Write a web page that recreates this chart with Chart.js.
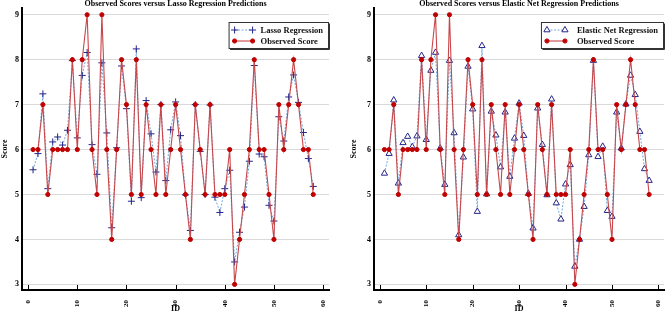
<!DOCTYPE html>
<html lang="en">
<head>
  <meta charset="UTF-8" />
  <title>Observed Scores vs Regression Predictions</title>
  <script src="https://cdn.jsdelivr.net/npm/chart.js@4.4.0/dist/chart.umd.min.js"></script>
  <style>
    html, body {
      margin: 0;
      padding: 0;
      background: #fff;
    }

    .row {
      display: flex;
      width: 669px;
      height: 315px;
    }

    canvas {
      display: block;
    }
  </style>
</head>
<body>
  <div class="row">
    <canvas id="lassoChart" width="334" height="315"></canvas>
    <canvas id="enetChart" width="335" height="315"></canvas>
  </div>

  <script>
    // data
    const ids = [1, 2, 3, 4, 5, 6, 7, 8, 9, 10, 11, 12, 13, 14, 15, 16, 17, 18, 19, 20,
      21, 22, 23, 24, 25, 26, 27, 28, 29, 30, 31, 32, 33, 34, 35, 36, 37, 38, 39, 40,
      41, 42, 43, 44, 45, 46, 47, 48, 49, 50, 51, 52, 53, 54, 55, 56, 57, 58];
    const observed = [6, 6, 7, 5, 6, 6, 6, 6, 8, 6, 8, 9, 6, 5, 9, 6, 4, 6, 8, 7,
      5, 8, 5, 7, 6, 5, 7, 5, 6, 7, 6, 5, 4, 7, 6, 5, 7, 5, 5, 5,
      6, 3, 4, 5, 6, 8, 6, 6, 5, 4, 7, 6, 7, 8, 7, 6, 6, 5];
    const lassoPred = [5.55, 5.91, 7.24, 5.13, 6.17, 6.28, 6.10, 6.43, 7.98, 6.26,
      7.65, 8.16, 6.11, 5.45, 7.93, 6.37, 4.26, 6.04, 7.86, 6.91,
      4.85, 8.24, 4.93, 7.09, 6.35, 5.50, 7.00, 5.31, 6.44, 7.06,
      6.31, 4.99, 4.20, 7.00, 5.96, 5.00, 6.99, 4.94, 4.60, 5.13,
      5.54, 3.50, 4.16, 4.72, 5.74, 7.87, 5.90, 5.84, 4.76, 4.41,
      6.73, 6.19, 7.17, 7.66, 7.05, 6.38, 5.80, 5.18];
    const enetPred = [5.47, 5.91, 7.10, 5.25, 6.15, 6.29, 6.06, 6.30, 8.09, 6.22,
      7.76, 8.16, 6.03, 5.22, 7.98, 6.37, 4.10, 5.83, 7.85, 6.90,
      4.62, 8.31, 5.01, 6.85, 6.32, 5.61, 6.83, 5.40, 6.25, 7.03,
      6.31, 5.02, 4.25, 6.92, 6.11, 4.99, 7.12, 4.81, 4.45, 5.23,
      5.66, 3.40, 4.00, 4.73, 5.88, 7.98, 5.84, 6.07, 4.64, 4.51,
      6.83, 6.03, 7.01, 7.65, 7.22, 6.40, 5.57, 5.31];
    const xTicks = [0, 10, 20, 30, 40, 50, 60];
    const yTicks = [3, 4, 5, 6, 7, 8, 9];

    const FONT = "'Liberation Serif', 'Times New Roman', serif";

    function toPoints(values) {
      return values.map((v, i) => ({ x: ids[i], y: v }));
    }

    // markers for the legend samples (same shapes chart.js uses)
    function drawMarker(ctx, ds, x, y) {
      const r = ds.pointRadius;
      ctx.save();
      ctx.setLineDash([]);
      ctx.lineWidth = ds.pointBorderWidth;
      ctx.strokeStyle = ds.pointBorderColor;
      ctx.fillStyle = ds.pointBackgroundColor;
      ctx.beginPath();
      if (ds.pointStyle === 'cross') {
        ctx.moveTo(x - r, y);
        ctx.lineTo(x + r, y);
        ctx.moveTo(x, y - r);
        ctx.lineTo(x, y + r);
        ctx.stroke();
      } else if (ds.pointStyle === 'triangle') {
        let a = 0;
        ctx.moveTo(x + Math.sin(a) * r, y - Math.cos(a) * r);
        a += Math.PI * 2 / 3;
        ctx.lineTo(x + Math.sin(a) * r, y - Math.cos(a) * r);
        a += Math.PI * 2 / 3;
        ctx.lineTo(x + Math.sin(a) * r, y - Math.cos(a) * r);
        ctx.closePath();
        ctx.fill();
        ctx.stroke();
      } else {
        ctx.arc(x, y, r, 0, Math.PI * 2);
        ctx.fill();
        ctx.stroke();
      }
      ctx.restore();
    }

    // title over the plot area, boxed legend, small inner ticks on x axis
    const panelDecor = {
      id: 'panelDecor',
      afterDraw(chart, args, opts) {
        const ctx = chart.ctx;
        const area = chart.chartArea;
        const xScale = chart.scales.x;

        ctx.save();
        ctx.fillStyle = '#000';
        ctx.font = 'bold 8px ' + FONT;
        ctx.textAlign = 'center';
        ctx.textBaseline = 'middle';
        ctx.fillText(opts.title, (area.left + area.right) / 2, 4);

        // x ticks pointing up into the plot
        ctx.strokeStyle = '#000';
        ctx.lineWidth = 1;
        xTicks.forEach(v => {
          const px = Math.round(xScale.getPixelForValue(v)) + 0.5;
          ctx.beginPath();
          ctx.moveTo(px, area.bottom);
          ctx.lineTo(px, area.bottom - 5);
          ctx.stroke();
        });

        // legend
        const items = chart.data.datasets.filter(d => d.label);
        ctx.font = 'bold 8.5px ' + FONT;
        const textW = Math.max(...items.map(d => ctx.measureText(d.label).width));
        const boxW = 5 + 18 + opts.legendGap + textW + 6;
        const boxH = 26;
        const bx = area.right - boxW - 1;
        const by = area.top + 14;
        ctx.fillStyle = '#fff';
        ctx.fillRect(bx, by, boxW, boxH);
        ctx.strokeStyle = '#333';
        ctx.lineWidth = 1;
        ctx.strokeRect(bx + 0.5, by + 0.5, boxW, boxH);
        ctx.beginPath();
        ctx.moveTo(bx + 1.5, by + boxH + 1.5);
        ctx.lineTo(bx + boxW + 1.5, by + boxH + 1.5);
        ctx.lineTo(bx + boxW + 1.5, by + 1.5);
        ctx.stroke();

        ctx.textAlign = 'left';
        items.forEach((ds, i) => {
          const ly = by + 8 + i * 11;
          const x0 = bx + 6;
          const x1 = x0 + 18;
          ctx.save();
          ctx.strokeStyle = ds.borderColor;
          ctx.lineWidth = ds.borderWidth;
          ctx.setLineDash(ds.borderDash || []);
          ctx.beginPath();
          ctx.moveTo(x0, ly);
          ctx.lineTo(x1, ly);
          ctx.stroke();
          ctx.restore();
          drawMarker(ctx, ds, x0, ly);
          drawMarker(ctx, ds, x1, ly);
          ctx.fillStyle = '#111';
          ctx.fillText(ds.label, x1 + opts.legendGap, ly + 0.5);
        });
        ctx.restore();
      }
    };

    function makeChart(canvasId, title, predLabel, predValues, predStyle, leftPad, yWidth, legendGap) {
      const predSet = {
        label: predLabel,
        data: toPoints(predValues),
        borderColor: '#6fa8dc',
        borderWidth: 1,
        borderDash: [2, 1.5],
        pointStyle: predStyle,
        pointRadius: predStyle === 'triangle' ? 3.6 : 3.5,
        pointBorderWidth: 1,
        pointBorderColor: '#25258a',
        pointBackgroundColor: predStyle === 'triangle' ? '#fff' : '#25258a',
        tension: 0,
        order: 1
      };
      const obsSet = {
        label: 'Observed Score',
        data: toPoints(observed),
        borderColor: '#c8474b',
        borderWidth: 1.1,
        pointStyle: 'circle',
        pointRadius: 2.1,
        pointBorderWidth: 1,
        pointBorderColor: '#c00000',
        pointBackgroundColor: '#c00000',
        tension: 0,
        order: 0
      };

      return new Chart(document.getElementById(canvasId), {
        type: 'line',
        data: { datasets: [predSet, obsSet] },
        plugins: [panelDecor],
        options: {
          responsive: false,
          animation: false,
          devicePixelRatio: 1,
          layout: { padding: { left: leftPad, right: 3, top: 8, bottom: 0 } },
          plugins: {
            legend: { display: false },
            tooltip: { enabled: false },
            panelDecor: { title: title, legendGap: legendGap }
          },
          scales: {
            x: {
              type: 'linear',
              min: -1.25,
              max: 61.2,
              afterBuildTicks: s => { s.ticks = xTicks.map(v => ({ value: v })); },
              afterFit: s => { s.height = 25; },
              ticks: {
                autoSkip: false,
                minRotation: 90,
                maxRotation: 90,
                padding: 2,
                color: '#000',
                font: { family: FONT, size: 7, weight: 'bold' }
              },
              grid: { display: false },
              border: { display: true, color: '#000', width: 2 },
              title: {
                display: true,
                text: 'ID',
                color: '#000',
                padding: { top: 0, bottom: 1 },
                font: { family: FONT, size: 8, weight: 'bold' }
              }
            },
            y: {
              type: 'linear',
              min: 2.875,
              max: 9.15,
              afterBuildTicks: s => { s.ticks = yTicks.map(v => ({ value: v })); },
              afterFit: s => { s.width = yWidth; },
              ticks: {
                padding: 3,
                color: '#000',
                font: { family: FONT, size: 8, weight: 'bold' }
              },
              grid: { color: '#d9d9d9', lineWidth: 1, drawTicks: false },
              border: { display: true, color: '#000', width: 2 },
              title: {
                display: true,
                text: 'Score',
                color: '#000',
                padding: 0,
                font: { family: FONT, size: 8, weight: 'bold' }
              }
            }
          }
        }
      });
    }

    makeChart('lassoChart', 'Observed Scores versus Lasso Regression Predictions',
      'Lasso Regression', lassoPred, 'cross', 0, 22, 8);
    makeChart('enetChart', 'Observed Scores versus Elastic Net Regression Predictions',
      'Elastic Net Regression', enetPred, 'triangle', 15, 25, 12);
  </script>
</body>
</html>
